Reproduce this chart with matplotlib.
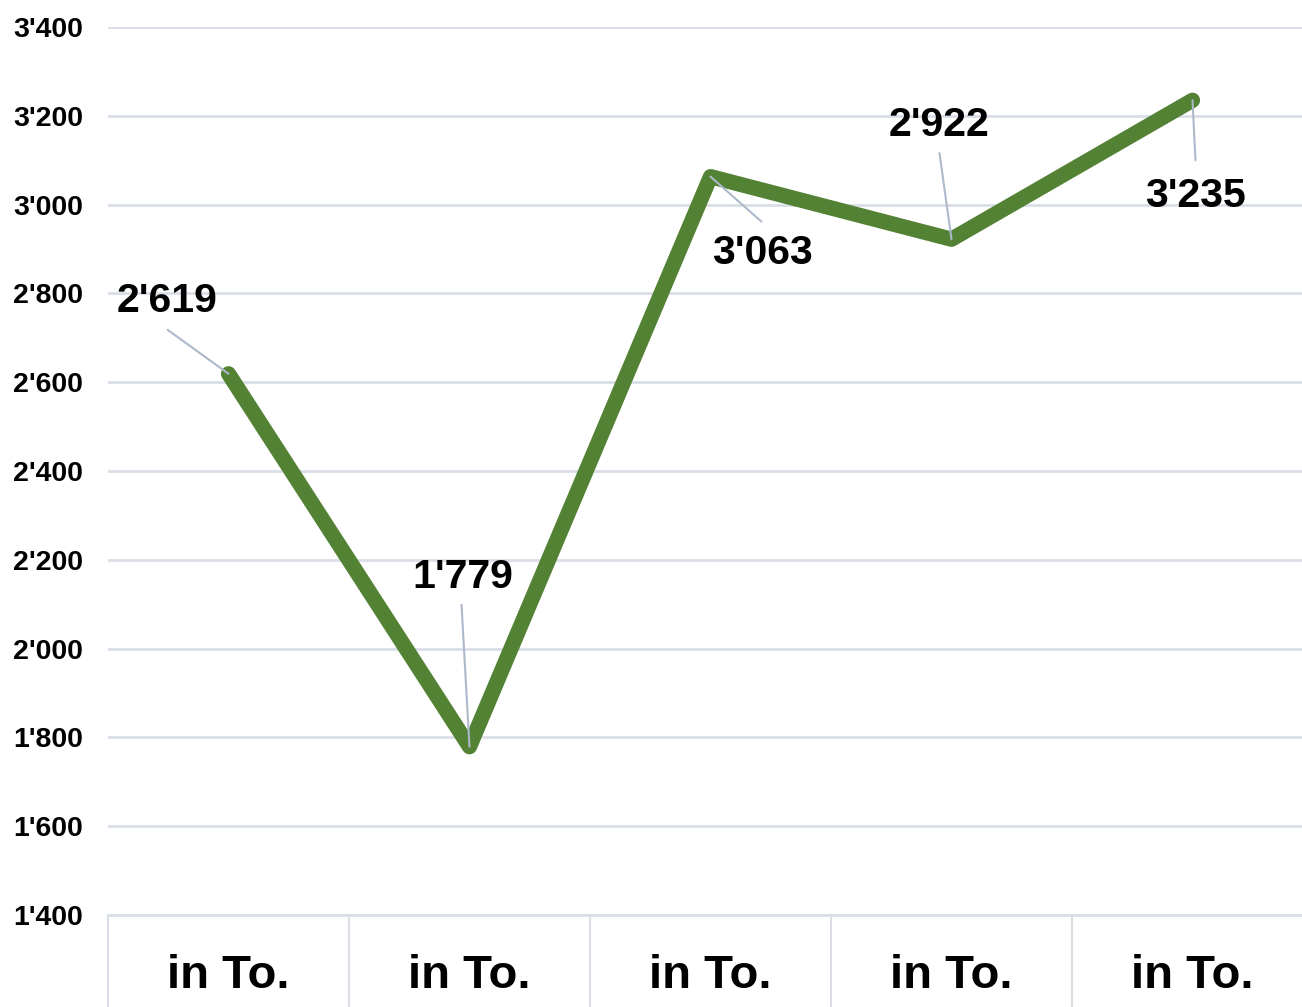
import numpy as np
import matplotlib
matplotlib.use("Agg")
import matplotlib.pyplot as plt

# ─────────────────────────────────────────────
# DATA
# ─────────────────────────────────────────────
categories = ["in To.", "in To.", "in To.", "in To.", "in To."]
values = [2619, 1779, 3063, 2922, 3235]
y_ticks = [1400, 1600, 1800, 2000, 2200, 2400, 2600, 2800, 3000, 3200, 3400]

# label placement (pixel offsets from each point): label centre, leader start
label_offsets = [(-61, 73), (-7, 170), (52, -76), (-12, 114), (3, -96)]
leader_offsets = [(-61, 44), (-8, 142), (51, -45), (-12, 86), (3, -60)]

# ─────────────────────────────────────────────
# STYLE
# ─────────────────────────────────────────────
LINE_COLOR = "#548235"
GRID_COLOR = "#d9dee7"
LEADER_COLOR = "#adb9ca"
plt.rcParams["font.family"] = ["Liberation Sans", "DejaVu Sans"]
plt.rcParams["font.weight"] = "bold"


def fmt(v):
    return f"{v:,.0f}".replace(",", "'")


fig = plt.figure(figsize=(13.02, 10.07), dpi=100)
ax = fig.add_axes([108 / 1302, 92 / 1007, 1205 / 1302, 888 / 1007])

x = np.arange(len(values))
ax.plot(x, values, color=LINE_COLOR, linewidth=11, solid_capstyle="round",
        solid_joinstyle="round", zorder=3)

# data labels with leader lines
for xi, v, (lx, ly), (sx, sy) in zip(x, values, label_offsets, leader_offsets):
    ax.annotate("", xy=(xi, v), xytext=(sx, sy), textcoords="offset pixels",
                arrowprops=dict(arrowstyle="-", color=LEADER_COLOR, lw=1.5,
                                shrinkA=0, shrinkB=0), zorder=4)
    ax.annotate(fmt(v), xy=(xi, v), xytext=(lx, ly), textcoords="offset pixels",
                ha="center", va="center", fontsize=29.5, fontweight="bold",
                color="black", zorder=5)

ax.set_xlim(-0.5, len(values) - 0.5)
ax.set_ylim(y_ticks[0], y_ticks[-1])

ax.set_yticks(y_ticks)
ax.set_yticklabels([fmt(t) for t in y_ticks], fontsize=20.5, fontweight="bold")
ax.yaxis.grid(True, color=GRID_COLOR, linewidth=2)
ax.set_axisbelow(True)

ax.set_xticks(x)
ax.set_xticklabels(categories, fontsize=34, fontweight="bold")
ax.set_xticks(np.arange(len(values) + 1) - 0.5, minor=True)

ax.tick_params(axis="y", length=0, pad=18)
ax.tick_params(axis="x", which="major", length=0, pad=28)
ax.tick_params(axis="x", which="minor", length=70, width=1.5, color=GRID_COLOR,
               direction="out")

for side in ["top", "right", "left"]:
    ax.spines[side].set_visible(False)
ax.spines["bottom"].set_color(GRID_COLOR)
ax.spines["bottom"].set_linewidth(2)

fig.savefig("out.png", dpi=100, facecolor="white")
